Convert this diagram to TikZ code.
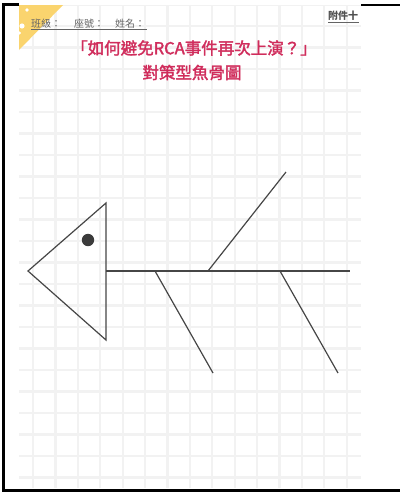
\documentclass[tikz,border=0pt]{standalone}
\usepackage{fontspec}
\newfontfamily\cjk{Noto Sans CJK TC}
\newfontfamily\cjkmed[FakeBold=2]{Noto Sans CJK TC}
\definecolor{gridc}{RGB}{242,242,242}
\definecolor{titlec}{RGB}{208,45,92}
\definecolor{bonec}{RGB}{70,70,70}
\definecolor{yel}{RGB}{250,212,110}
\definecolor{hdr}{RGB}{100,100,100}
\tikzset{
  bone/.style={draw=bonec, line width=1.2pt},
  frameline/.style={draw=black, line width=2.6pt},
  titletext/.style={text=titlec, font=\cjkmed\fontsize{16.5}{18}\selectfont, inner sep=0pt},
  hdrtext/.style={text=hdr, font=\cjk\fontsize{10}{11}\selectfont, inner sep=0pt, anchor=west},
}
\begin{document}
\begin{tikzpicture}[x=1pt,y=-1pt]
\useasboundingbox (0,0) rectangle (400,496);
\fill[white] (0,0) rectangle (400,496);
% grid
\begin{scope}
\clip (19,5) rectangle (361,488);
\foreach \i in {0,...,14} \draw[gridc, line width=2.2pt] (33+22.4*\i,5) -- (33+22.4*\i,488);
\foreach \j in {0,...,22} \draw[gridc, line width=2.2pt] (19,4.5+21.5*\j) -- (361,4.5+21.5*\j);
% yellow corner
\fill[yel] (19,5) -- (63,5) -- (19,50) -- cycle;
\fill[white] (22,26) circle (2.6);
\fill[white] (19.5,33) circle (1.6);
\fill[white] (27,10) circle (1.8);
\end{scope}
% frame
\draw[frameline] (3.3,4.5) -- (19,4.5);
\draw[frameline] (3.3,3.2) -- (3.3,490.5) -- (400,490.5);
\draw[frameline] (361,4.8) -- (400,4.8);
% header
\node[hdrtext] (h1) at (31,24) {班級：};
\node[hdrtext] (h2) at (74,24) {座號：};
\node[hdrtext] (h3) at (115,24) {姓名：};
\draw[hdr, line width=0.6pt] (31,29.5) -- (147,29.5);
\node[text=hdr!80!black, font=\cjk\bfseries\fontsize{10}{11}\selectfont, inner sep=0pt, anchor=west] (att) at (328,16) {附件十};
\draw[hdr, line width=0.6pt] (328,22.7) -- (359,22.7);
% title
\node[titletext] (t1) at (194,48) {「如何避免RCA事件再次上演？」};
\node[titletext] (t2) at (192,72.5) {對策型魚骨圖};
% fish
\coordinate (tip) at (28,271);
\coordinate (ht) at (106,203);
\coordinate (hb) at (106,340);
\coordinate (sp0) at (106,271);
\coordinate (sp1) at (350,271);
\coordinate (b1s) at (155,271);
\coordinate (b1e) at (213,373);
\coordinate (b2s) at (208,271);
\coordinate (b2e) at (286,172);
\coordinate (b3s) at (280,271);
\coordinate (b3e) at (338,373);
\draw[bone, line join=miter] (tip) -- (ht) -- (hb) -- cycle;
\fill[bonec!85!black] (88,240) circle (6.2);
\draw[bone] (sp0) -- (sp1);
\draw[bone] (b1s) -- (b1e);
\draw[bone] (b2s) -- (b2e);
\draw[bone] (b3s) -- (b3e);
\end{tikzpicture}
\end{document}
